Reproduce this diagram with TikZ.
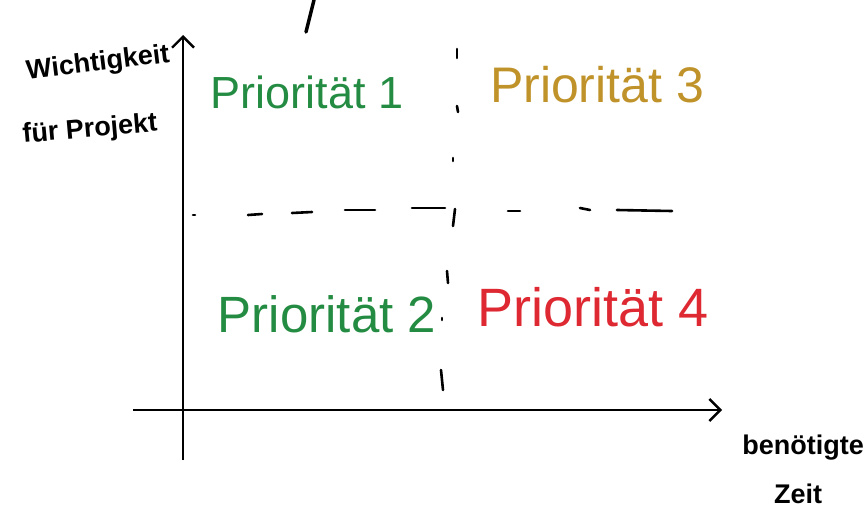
\documentclass[tikz,border=0pt]{standalone}
\usepackage{fontspec}
\setmainfont{Liberation Sans}
\usetikzlibrary{arrows.meta}
\definecolor{pgreen}{RGB}{36,140,66}
\definecolor{pgold}{RGB}{192,146,42}
\definecolor{pred}{RGB}{222,40,50}
\tikzset{
  axis/.style={line width=2.6pt,-{Straight Barb[length=11pt,width=22pt,line width=2.4pt]}},
  dashseg/.style={line width=2.6pt,line cap=round},
  prio/.style={font=\fontsize{#1}{#1}\selectfont,inner sep=0pt},
  hand/.style={font=\fontsize{27}{28}\selectfont\bfseries,text=black,inner sep=0pt},
}
\begin{document}
\begin{tikzpicture}[x=1pt,y=-1pt]
\useasboundingbox (0,0) rectangle (867,517);
% axes
\coordinate (yb) at (183,460);
\coordinate (yt) at (183,35);
\coordinate (xl) at (133,410);
\coordinate (xr) at (722,410);
\draw[axis] (yb) -- (yt);
\draw[axis] (xl) -- (xr);
% dashed separators (hand-drawn segments)
\foreach \a/\b/\c/\d in {193/215/195/215, 248/215/262/214, 292/213/312/212, 345/210/375/210,
  412/208/445/208, 508/211/520/211, 580/208/590/210, 617/210/672/211}
  \draw[dashseg] (\a,\b) -- (\c,\d);
\foreach \a/\b/\c/\d in {457/49/457/58, 457/106/458/112, 453/158/453/161, 455/209/453/226,
  447/271/448/283, 442/318/442/320, 441/370/443/390}
  \draw[dashseg] (\a,\b) -- (\c,\d);
% stray mark
\coordinate (sa) at (314,0);
\coordinate (sb) at (306,32);
\draw[line width=3.5pt,line cap=round] (sa) -- (sb);
% labels
\node[prio=45,text=pgreen] (p1) at (307,92) {Priorität 1};
\node[prio=50,text=pgold] (p3) at (597,85) {Priorität 3};
\node[prio=51,text=pgreen] (p2) at (327,314) {Priorität 2};
\node[prio=54,text=pred] (p4) at (593,307) {Priorität 4};
% axis labels
\node[hand,rotate=7] (yl1) at (98,64) {Wichtigkeit};
\node[hand,rotate=5] (yl2) at (90,130) {für Projekt};
\node[hand] (xlab1) at (803,448) {benötigte};
\node[hand] (xlab2) at (798,494) {Zeit};
\end{tikzpicture}
\end{document}
